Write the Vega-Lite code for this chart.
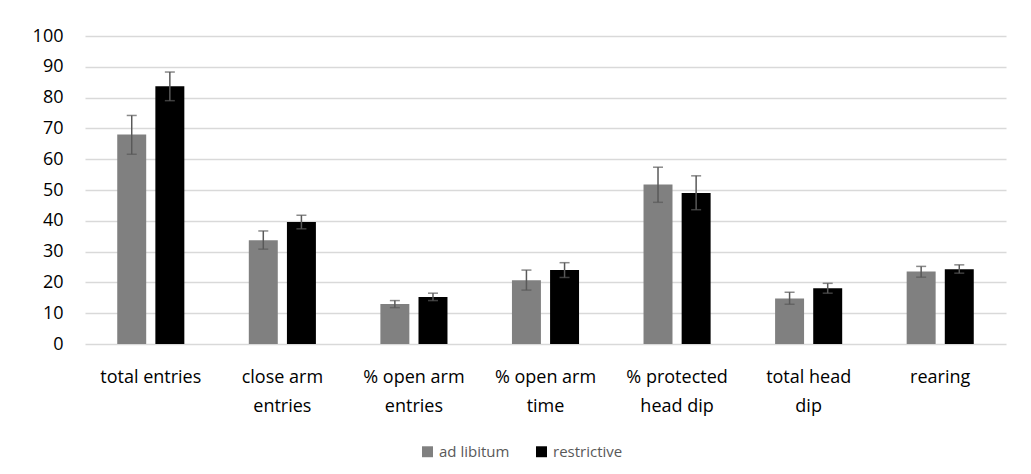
{
  "$schema": "https://vega.github.io/schema/vega-lite/v6.json",
  "width": 921,
  "height": 308,
  "autosize": {"type": "pad"},
  "padding": {"left": 32, "top": 27, "right": 23, "bottom": 5},
  "background": "white",
  "config": {
    "view": {"stroke": null},
    "font": "Open Sans",
    "axisY": {
      "title": null,
      "values": [0, 10, 20, 30, 40, 50, 60, 70, 80, 90, 100],
      "labelOverlap": false,
      "labelFontSize": 18,
      "labelColor": "#000000",
      "labelPadding": 22,
      "ticks": false,
      "domain": false,
      "gridColor": "#d9d9d9",
      "gridWidth": 1.5
    }
  },
  "data": {
    "values": [
      {"measure": "total entries", "diet": "ad libitum", "mean": 68, "lo": 61.6, "hi": 74.2},
      {"measure": "total entries", "diet": "restrictive", "mean": 83.7, "lo": 79, "hi": 88.3},
      {"measure": "close arm entries", "diet": "ad libitum", "mean": 33.7, "lo": 30.8, "hi": 36.7},
      {"measure": "close arm entries", "diet": "restrictive", "mean": 39.6, "lo": 37.4, "hi": 41.8},
      {"measure": "% open arm entries", "diet": "ad libitum", "mean": 13, "lo": 11.8, "hi": 14.1},
      {"measure": "% open arm entries", "diet": "restrictive", "mean": 15.3, "lo": 14.1, "hi": 16.5},
      {"measure": "% open arm time", "diet": "ad libitum", "mean": 20.7, "lo": 17.5, "hi": 24},
      {"measure": "% open arm time", "diet": "restrictive", "mean": 24, "lo": 21.6, "hi": 26.4},
      {"measure": "% protected head dip", "diet": "ad libitum", "mean": 51.8, "lo": 46, "hi": 57.4},
      {"measure": "% protected head dip", "diet": "restrictive", "mean": 49, "lo": 43.6, "hi": 54.6},
      {"measure": "total head dip", "diet": "ad libitum", "mean": 14.8, "lo": 12.9, "hi": 16.8},
      {"measure": "total head dip", "diet": "restrictive", "mean": 18.1, "lo": 16.5, "hi": 19.7},
      {"measure": "rearing", "diet": "ad libitum", "mean": 23.5, "lo": 21.7, "hi": 25.2},
      {"measure": "rearing", "diet": "restrictive", "mean": 24.3, "lo": 23, "hi": 25.7}
    ]
  },
  "encoding": {
    "x": {
      "field": "measure",
      "type": "nominal",
      "sort": ["total entries", "close arm entries", "% open arm entries", "% open arm time", "% protected head dip", "total head dip", "rearing"],
      "scale": {"paddingInner": 0.49, "paddingOuter": 0.245},
      "axis": {
        "title": null,
        "labelAngle": 0,
        "labelFontSize": 18,
        "labelColor": "#000000",
        "labelPadding": 24,
        "labelLineHeight": 29,
        "labelBaseline": "top",
        "ticks": false,
        "domain": false,
        "labelExpr": "datum.value == 'close arm entries' ? ['close arm','entries'] : datum.value == '% open arm entries' ? ['% open arm','entries'] : datum.value == '% open arm time' ? ['% open arm','time'] : datum.value == '% protected head dip' ? ['% protected','head dip'] : datum.value == 'total head dip' ? ['total head','dip'] : datum.value"
      }
    },
    "xOffset": {
      "field": "diet",
      "type": "nominal",
      "sort": ["ad libitum", "restrictive"],
      "scale": {"paddingInner": 0.24, "paddingOuter": 0}
    },
    "y": {
      "field": "mean",
      "type": "quantitative",
      "scale": {"domain": [0, 100]},
      "axis": {"title": null, "values": [0, 10, 20, 30, 40, 50, 60, 70, 80, 90, 100], "labelOverlap": false}
    }
  },
  "layer": [
    {
      "mark": {"type": "bar"},
      "encoding": {
        "color": {
          "field": "diet",
          "type": "nominal",
          "sort": ["ad libitum", "restrictive"],
          "scale": {"range": ["#808080", "#000000"]},
          "legend": {
            "title": null,
            "orient": "none",
            "legendX": 335,
            "legendY": 408,
            "direction": "horizontal",
            "symbolType": "square",
            "symbolSize": 120,
            "symbolStrokeWidth": 0,
            "labelFontSize": 15,
            "labelColor": "#595959",
            "columnPadding": 24,
            "labelOffset": 4
          }
        }
      }
    },
    {
      "mark": {"type": "rule", "color": "#595959", "strokeWidth": 1.5},
      "encoding": {
        "y": {"field": "lo", "type": "quantitative"},
        "y2": {"field": "hi"}
      }
    },
    {
      "mark": {"type": "tick", "color": "#595959", "size": 10, "thickness": 1.5, "orient": "horizontal"},
      "encoding": {"y": {"field": "lo", "type": "quantitative"}}
    },
    {
      "mark": {"type": "tick", "color": "#595959", "size": 10, "thickness": 1.5, "orient": "horizontal"},
      "encoding": {"y": {"field": "hi", "type": "quantitative"}}
    }
  ]
}
